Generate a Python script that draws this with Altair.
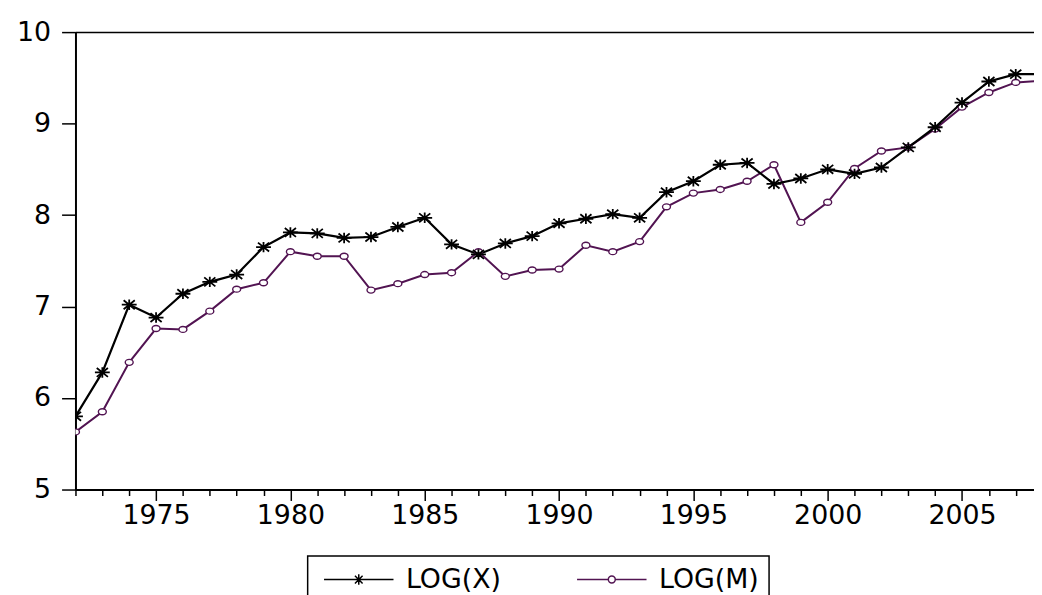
import altair as alt
import pandas as pd

years = list(range(1972, 2009))
log_x = [5.80, 6.28, 7.02, 6.88, 7.14, 7.27, 7.35, 7.65,
         7.81, 7.80, 7.75, 7.76, 7.87, 7.97, 7.68, 7.57, 7.69, 7.77,
         7.91, 7.96, 8.01, 7.97, 8.25, 8.37, 8.55, 8.57, 8.34, 8.40,
         8.50, 8.45, 8.52, 8.74, 8.96, 9.23, 9.46, 9.54, 9.54]
log_m = [5.63, 5.85, 6.39, 6.76, 6.75, 6.95, 7.19, 7.26,
         7.60, 7.55, 7.55, 7.18, 7.25, 7.35, 7.37, 7.60, 7.33, 7.40,
         7.41, 7.67, 7.60, 7.71, 8.09, 8.24, 8.28, 8.37, 8.55, 7.92,
         8.14, 8.51, 8.70, 8.74, 8.94, 9.18, 9.34, 9.45, 9.47]
series_names = ["LOG(X)", "LOG(M)"]
x_tick_values = list(range(1972, 2008))
y_tick_values = [5, 6, 7, 8, 9, 10]

BLACK = "#000000"
PURPLE = "#521452"
FONT = "DejaVu Sans"

df = pd.DataFrame({
    "year": years * 2,
    "value": log_x + log_m,
    "series": [series_names[0]] * len(years) + [series_names[1]] * len(years),
})

xscale = alt.Scale(domain=[1972, 2007.68], nice=False, zero=False)
yscale = alt.Scale(domain=[5, 10], nice=False, zero=False)

bottom_axis = alt.Axis(
    orient="bottom", values=x_tick_values, title=None, grid=False,
    labelExpr="datum.value % 5 === 0 ? datum.value : ''",
    tickSize={"condition": {"test": "datum.value % 5 === 0", "value": 11}, "value": 6},
    tickWidth=1.5, tickColor=BLACK, domainWidth=2, domainColor=BLACK,
    labelPadding=2, labelFontSize=27, labelFont=FONT, labelColor=BLACK,
)
top_axis = alt.Axis(orient="top", title=None, grid=False, labels=False, ticks=False,
                    domain=True, domainWidth=1.5, domainColor=BLACK)
left_axis = alt.Axis(
    orient="left", values=y_tick_values, title=None, grid=False,
    tickSize=14, tickWidth=1.5, tickColor=BLACK, domainWidth=2, domainColor=BLACK,
    labelPadding=11, labelFontSize=27, labelFont=FONT, labelColor=BLACK,
)

base = alt.Chart(df)

def xenc(axis):
    return alt.X("year:Q", scale=xscale, axis=axis)

def yenc():
    return alt.Y("value:Q", scale=yscale, axis=left_axis)

line_m = base.transform_filter(alt.datum.series == series_names[1]).mark_line(
    color=PURPLE, strokeWidth=2, clip=True
).encode(x=xenc(bottom_axis), y=yenc())

line_x = base.transform_filter(alt.datum.series == series_names[0]).mark_line(
    color=BLACK, strokeWidth=2.2, clip=True
).encode(x=xenc(None), y=yenc())

STAR = "M-1,0L1,0M0,-0.7L0,0.7M-0.75,-0.6L0.75,0.6M-0.75,0.6L0.75,-0.6"
ELLIPSE = "M-1,0A1,0.75 0 1,0 1,0A1,0.75 0 1,0 -1,0Z"

pts_m = base.transform_filter(alt.datum.series == series_names[1]).mark_point(
    shape=ELLIPSE, size=64, filled=False, fill="white", fillOpacity=1,
    stroke=PURPLE, strokeWidth=1.4, opacity=1, clip=True
).encode(x=xenc(None), y=yenc())

pts_x = base.transform_filter(alt.datum.series == series_names[0]).mark_point(
    shape=STAR, size=225, filled=False, stroke=BLACK, strokeWidth=1.8, opacity=1, clip=True
).encode(x=xenc(top_axis), y=yenc())

LEG_X = "M-1,0L9,0M3.25,0L4.75,0M4,-0.75L4,0.75M3.45,-0.55L4.55,0.55M3.45,0.55L4.55,-0.55"
LEG_M = "M-1,0L3.5,0M4.5,0L9,0M3.5,0A0.5,0.5 0 1,0 4.5,0A0.5,0.5 0 1,0 3.5,0Z"

legend = alt.Legend(
    title=None, orient="none", legendX=234, legendY=528, direction="horizontal",
    columns=2, strokeColor=BLACK, padding=10, labelOffset=62, columnPadding=70,
    symbolSize=196, symbolStrokeWidth=1.5, symbolFillColor="white", symbolOpacity=1,
    labelFontSize=27, labelFont=FONT, labelColor=BLACK,
)

leg_layer = base.mark_point(opacity=0, filled=False, clip=True).encode(
    x=xenc(None), y=yenc(),
    color=alt.Color("series:N", scale=alt.Scale(domain=series_names, range=[BLACK, PURPLE]), legend=legend),
    shape=alt.Shape("series:N", scale=alt.Scale(domain=series_names, range=[LEG_X, LEG_M]), legend=legend),
)

chart = alt.layer(line_m, line_x, pts_m, pts_x, leg_layer).resolve_axis(
    x="independent", y="shared"
).resolve_scale(x="shared", y="shared").properties(
    width=966, height=461,
    autosize=alt.AutoSizeParams(type="none"),
    padding={"left": 68, "top": 22, "right": 0, "bottom": 104},
).configure_view(stroke=None).configure_legend(strokeWidth=1.5)

chart.save("out.html", embed_options={"renderer": "svg", "actions": False})
